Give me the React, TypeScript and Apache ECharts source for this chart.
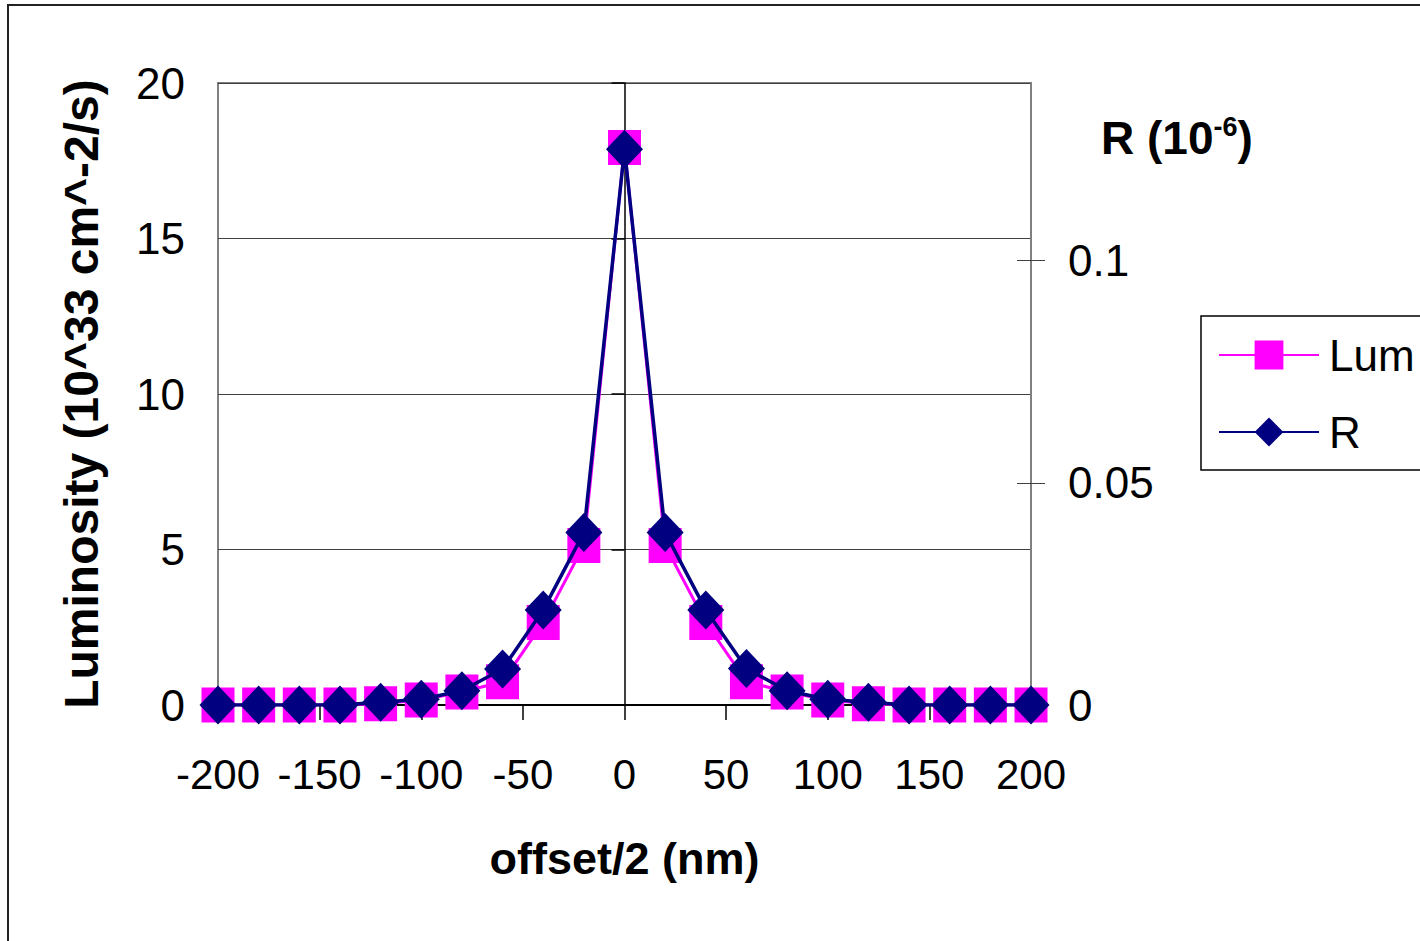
import React, { useEffect, useRef } from "react";
import * as echarts from "echarts";

const offsets = [-200, -180, -160, -140, -120, -100, -80, -60, -40, -20, 0, 20, 40, 60, 80, 100, 120, 140, 160, 180, 200];
const lumValues = [0, 0, 0, 0, 0.04, 0.16, 0.42, 0.75, 2.65, 5.13, 17.93, 5.13, 2.65, 0.75, 0.42, 0.16, 0.04, 0, 0, 0, 0];
const rValues = [0, 0, 0, 0, 0.0006, 0.0013, 0.0032, 0.0081, 0.0214, 0.0388, 0.1251, 0.0388, 0.0214, 0.0082, 0.0032, 0.0013, 0.0006, 0, 0, 0, 0];
const rTicks = [0, 0.05, 0.1];

const FONT = "'Liberation Sans', Arial, sans-serif";

export default function App() {
  const ref = useRef<HTMLDivElement>(null);
  useEffect(() => {
    document.body.style.margin = "0";
    const chart = echarts.init(ref.current!, null, { renderer: "svg" });
    const lumData = offsets.map((x, i) => [x, lumValues[i]]);
    const rData = offsets.map((x, i) => [x, rValues[i]]);
    chart.setOption({
      animation: false,
      backgroundColor: "#fff",
      textStyle: { fontFamily: FONT, color: "#000" },
      graphic: [
        {
          type: "rect",
          shape: { x: 8, y: 5, width: 1600, height: 1200 },
          style: { fill: "none", stroke: "#222", lineWidth: 2 },
          silent: true,
        },
      ],
      title: {
        left: 1096,
        top: 108,
        text: "{a|R (10}{s|-6}{a|)}",
        textStyle: {
          rich: {
            a: { fontFamily: FONT, fontSize: 46, fontWeight: "bold", color: "#000", lineHeight: 50 },
            s: { fontFamily: FONT, fontSize: 27, fontWeight: "bold", color: "#000", verticalAlign: "top", lineHeight: 32 },
          },
        },
      },
      legend: {
        orient: "vertical",
        left: 1201,
        top: 316,
        data: ["Lum", "R"],
        itemWidth: 100,
        itemHeight: 36,
        itemGap: 33,
        padding: [17, 30, 16, 17],
        borderColor: "#000",
        borderWidth: 1.5,
        textStyle: { fontFamily: FONT, fontSize: 44, lineHeight: 44, color: "#000", padding: [0, 0, 0, 5] },
      },
      grid: { left: 218, top: 83, width: 813, height: 622, show: true, borderColor: "#808080", borderWidth: 2, backgroundColor: "transparent" },
      xAxis: {
        type: "value",
        min: -200,
        max: 200,
        interval: 50,
        axisLine: { onZero: true, lineStyle: { color: "#000", width: 2 } },
        axisTick: { show: true, length: 15, lineStyle: { color: "#000", width: 1.5 } },
        axisLabel: { fontFamily: FONT, fontSize: 42, color: "#000", margin: 48 },
        splitLine: { show: false },
        name: "offset/2 (nm)",
        nameLocation: "middle",
        nameGap: 131,
        nameTextStyle: { fontFamily: FONT, fontSize: 45, fontWeight: "bold", color: "#000" },
      },
      yAxis: [
        {
          type: "value",
          position: "left",
          min: 0,
          max: 20,
          interval: 5,
          axisLine: { show: false, onZero: false },
          axisTick: { show: false },
          axisLabel: { fontFamily: FONT, fontSize: 44, color: "#000", margin: 33 },
          splitLine: { show: true, lineStyle: { color: "#404040", width: 1 } },
          name: "Luminosity (10^33 cm^-2/s)",
          nameLocation: "middle",
          nameRotate: 90,
          nameGap: 113,
          nameTextStyle: { fontFamily: FONT, fontSize: 48, fontWeight: "bold", color: "#000" },
        },
        {
          type: "value",
          position: "right",
          min: 0,
          max: 0.14,
          axisLine: { show: true, onZero: false, lineStyle: { color: "#808080", width: 2 } },
          axisTick: { show: true, length: 14, customValues: rTicks, lineStyle: { color: "#404040", width: 1 } },
          axisLabel: { fontFamily: FONT, fontSize: 44, color: "#000", margin: 37, customValues: rTicks },
          splitLine: { show: false },
        },
        {
          type: "value",
          position: "left",
          min: 0,
          max: 20,
          interval: 5,
          axisLine: { show: true, onZero: true, onZeroAxisIndex: 0, lineStyle: { color: "#000", width: 1.5 } },
          axisTick: { show: true, length: 13, lineStyle: { color: "#000", width: 1.5 } },
          axisLabel: { show: false },
          splitLine: { show: false },
        },
        {
          type: "value",
          position: "right",
          min: 0,
          max: 0.14,
          axisLine: { show: false, onZero: false },
          axisTick: { show: true, inside: true, length: 14, customValues: rTicks, lineStyle: { color: "#404040", width: 1 } },
          axisLabel: { show: false },
          splitLine: { show: false },
        },
      ],
      series: [
        {
          name: "Lum",
          type: "line",
          yAxisIndex: 0,
          data: lumData,
          color: "#FF00FF",
          lineStyle: { color: "#FF00FF", width: 3 },
          itemStyle: { color: "#FF00FF" },
          symbol: "rect",
          symbolSize: [33, 35],
          z: 3,
        },
        {
          name: "R",
          type: "line",
          yAxisIndex: 1,
          data: rData,
          color: "#000080",
          lineStyle: { color: "#000080", width: 3.5 },
          itemStyle: { color: "#000080" },
          symbol: "diamond",
          symbolSize: [37, 39],
          z: 4,
        },
      ],
    });
    return () => chart.dispose();
  }, []);
  return <div ref={ref} style={{ width: 1420, height: 941 }} />;
}
